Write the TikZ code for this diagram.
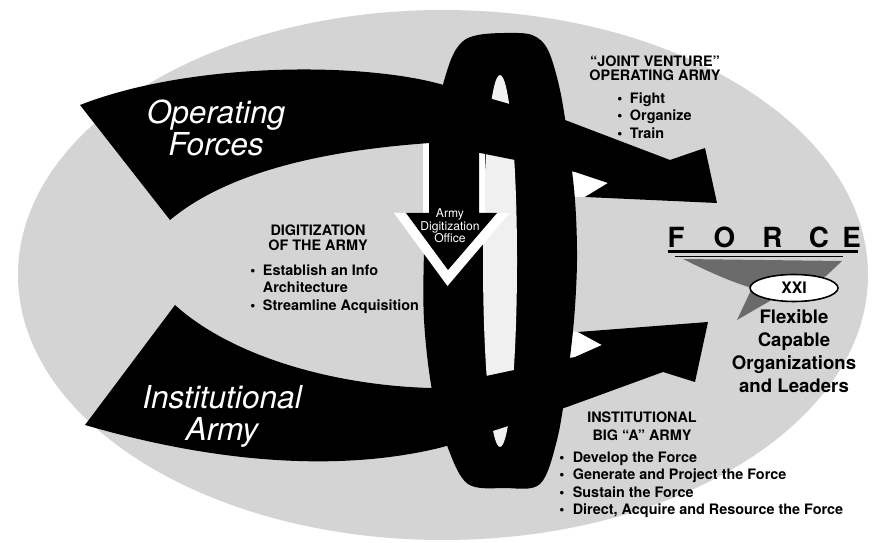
\documentclass[tikz,border=0pt]{standalone}
\usepackage{fontspec}
\setmainfont{TeX Gyre Heros}
\usetikzlibrary{shapes.geometric}
\definecolor{speck}{gray}{0.83}
\definecolor{holegray}{gray}{0.94}
\definecolor{funnelgray}{gray}{0.42}
\begin{document}
\begin{tikzpicture}[x=0.02cm,y=-0.02cm,
  band/.style={fill=black},
  bigwhite/.style={text=white,font=\fontsize{18}{18.2}\selectfont\itshape,align=center,inner sep=0},
  headline/.style={font=\fontsize{8.2}{8.5}\selectfont\bfseries,align=center,inner sep=0},
  bullets/.style={font=\fontsize{8.2}{10}\selectfont\bfseries,inner sep=0,anchor=north west},
  adotext/.style={text=white,font=\fontsize{6.9}{7.1}\selectfont,align=center,inner sep=0},
  forcelt/.style={font=\fontsize{15.8}{16}\selectfont\bfseries,inner sep=0},
  goal/.style={font=\fontsize{10.6}{13.2}\selectfont\bfseries,align=center,inner sep=0}
]
\useasboundingbox (0,0) rectangle (875,543);
\fill[white] (0,0) rectangle (875,543);

% speckled backdrop
\fill[speck] (443,275) ellipse [x radius=425, y radius=265];

% light gaps between the arrowheads and the ring
\fill[white] (563,168) -- (575,172) -- (608,183) -- (585,197) -- (563,197) -- cycle;
\fill[white] (563,331) -- (578,332) -- (602,345) -- (575,357) -- (563,358) -- cycle;

% the ring
\fill[black] plot[smooth cycle, tension=0.55] coordinates {
  (478,35) (505,33) (532,35) (548,50) (560,90) (568,140) (575,200)
  (577,260) (574,320) (567,380) (557,440) (540,484) (505,488) (468,484)
  (448,448) (432,390) (424,320) (424,250) (427,180) (437,110) (450,62) (462,42)};
\fill[holegray] (500,261) ellipse [x radius=17, y radius=186];

% Institutional Army arrow
\fill[band] (175,305) .. controls (230,355) and (330,385) .. (430,388)
  -- (575,357) -- (602,345) -- (578,332) -- (708,322) -- (695,382)
  -- (663,372) -- (567,407) -- (443,447)
  .. controls (360,468) and (240,470) .. (85,425) -- cycle;

% Army Digitization Office arrow, outlined in white
\fill[white] (423,138) -- (423,213) -- (394,213) -- (447.5,286) -- (509.5,213)
  -- (485,213) -- (485,138) -- cycle;
\fill[black] (429,138) -- (429,213) -- (406,213) -- (448,270) -- (497,213)
  -- (479,213) -- (479,138) -- cycle;
\node[adotext] (ado) at (450,226) {Army\\Digitization\\Office};

% Operating Forces arrow
\fill[band] (80,105) .. controls (190,62) and (360,62) .. (440,84)
  -- (565,120) -- (670,160) -- (705,148) -- (717,203) -- (585,197)
  -- (608,183) -- (575,172) -- (430,143)
  .. controls (330,150) and (230,170) .. (170,220) -- cycle;

\node[bigwhite] (opf) at (216,127.5) {Operating\\Forces};
\node[bigwhite] (inst) at (222,416) {Institutional\\Army};

% labels
\node[headline] (dighead) at (318,237.5) {DIGITIZATION\\OF THE ARMY};
\node[bullets] (diglist) at (250,262.6) {\begin{tabular}{@{}l@{\hspace{4.3pt}}l@{}}
  \textbullet & Establish an Info\\ & Architecture\\ \textbullet & Streamline Acquisition\end{tabular}};

\node[font=\fontsize{8.2}{7.9}\selectfont\bfseries,align=center,inner sep=0] (jvhead) at (655,68.5)
  {“JOINT VENTURE”\\OPERATING ARMY};
\node[bullets] (jvlist) at (617,90.6) {\begin{tabular}{@{}l@{\hspace{4.3pt}}l@{}}
  \textbullet & Fight\\ \textbullet & Organize\\ \textbullet & Train\end{tabular}};

\node[font=\fontsize{8.2}{10.2}\selectfont\bfseries,align=center,inner sep=0] (insthead) at (642,426.7)
  {INSTITUTIONAL\\BIG “A” ARMY};
\node[bullets] (instlist) at (559,449.6) {\begin{tabular}{@{}l@{\hspace{4.8pt}}l@{}}
  \textbullet & Develop the Force\\ \textbullet & Generate and Project the Force\\
  \textbullet & Sustain the Force\\ \textbullet & Direct, Acquire and Resource the Force\end{tabular}};

% FORCE XXI emblem
\foreach \c/\x [count=\i] in {F/676,O/724.5,R/772.5,C/819,E/851.5}
  \node[forcelt] (force\i) at (\x,237) {\c};
\draw[line width=1.4pt] (668,251.5) -- (858,251.5);
\draw[line width=0.6pt] (675,256.5) -- (843,256.5);
\fill[funnelgray] (683,259) .. controls (715,275) and (735,283) .. (752,288)
  -- (737,320) -- (775,298) -- (826,276) -- (842,261) -- cycle;
\node[draw=black,line width=0.9pt,fill=white,ellipse,minimum width=88*0.02cm,minimum height=27*0.02cm,inner sep=0,
  font=\fontsize{9}{9}\selectfont\bfseries] (xxi) at (794,288) {XXI};
\node[goal] (goaltext) at (794,351) {Flexible\\Capable\\Organizations\\and Leaders};
\end{tikzpicture}
\end{document}
